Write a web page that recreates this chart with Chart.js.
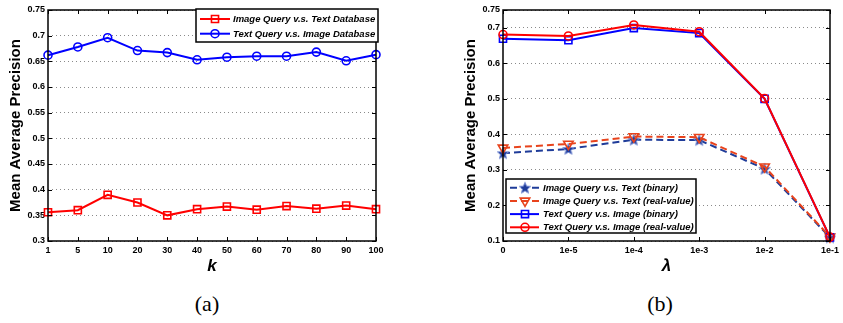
<!DOCTYPE html>
<html>
<head>
<meta charset="utf-8">
<script src="https://cdn.jsdelivr.net/npm/chart.js@4.4.1/dist/chart.umd.min.js"></script>
<style>
  html, body { margin: 0; padding: 0; background: #fff; }
  #page { position: relative; width: 843px; height: 323px; overflow: hidden; }
  .panel { position: absolute; top: 0; height: 285px; }
  #panel-a { left: 0; width: 400px; }
  #panel-b { left: 430px; width: 413px; }
  .caption {
    position: absolute; top: 291px; transform: translateX(-50%);
    font-family: "Liberation Serif", "DejaVu Serif", serif; font-size: 22px; color: #000;
  }
</style>
</head>
<body>
<div id="page">
  <div class="panel" id="panel-a"><canvas id="chartA"></canvas></div>
  <div class="panel" id="panel-b"><canvas id="chartB"></canvas></div>
  <div class="caption" style="left:207px">(a)</div>
  <div class="caption" style="left:660px">(b)</div>
</div>
<script>
// Panel (a): MAP against k
const kLabels = ['1', '5', '10', '20', '30', '40', '50', '60', '70', '80', '90', '100'];
const imgQueryTextDb = [0.356, 0.360, 0.390, 0.375, 0.350, 0.362, 0.367, 0.361, 0.368, 0.363, 0.369, 0.362];
const txtQueryImageDb = [0.662, 0.678, 0.696, 0.671, 0.667, 0.653, 0.658, 0.660, 0.660, 0.668, 0.651, 0.663];
const yTicksA = [0.3, 0.35, 0.4, 0.45, 0.5, 0.55, 0.6, 0.65, 0.7, 0.75];

// Panel (b): MAP against lambda
const lambdaLabels = ['0', '1e-5', '1e-4', '1e-3', '1e-2', '1e-1'];
const imgTextBinary = [0.347, 0.359, 0.385, 0.384, 0.303, 0.110];
const imgTextReal = [0.362, 0.373, 0.394, 0.392, 0.309, 0.112];
const txtImageBinary = [0.669, 0.665, 0.699, 0.685, 0.500, 0.110];
const txtImageReal = [0.681, 0.677, 0.708, 0.689, 0.501, 0.111];
const yTicksB = [0.1, 0.2, 0.3, 0.4, 0.5, 0.6, 0.7, 0.75];

const FAMILY = '"Liberation Sans", Arial, Helvetica, sans-serif';
Chart.defaults.font.family = FAMILY;
Chart.defaults.color = '#000';

const tickFont = { size: 9, weight: 'bold' };

// filled star marker (chart.js 'star' is only an asterisk)
function starImage(size, fill, stroke) {
    const c = document.createElement('canvas');
    c.width = c.height = size;
    const g = c.getContext('2d');
    const cx = size / 2, cy = size / 2 + 0.5, r = size / 2 - 1, r2 = r * 0.45;
    g.beginPath();
    for (let i = 0; i < 10; i++) {
        const ang = -Math.PI / 2 + i * Math.PI / 5;
        const rr = i % 2 ? r2 : r;
        g.lineTo(cx + rr * Math.cos(ang), cy + rr * Math.sin(ang));
    }
    g.closePath();
    g.fillStyle = fill;
    g.fill();
    g.strokeStyle = stroke;
    g.lineWidth = 1;
    g.stroke();
    return c;
}

// box + inward ticks on all four sides, matlab style
const matlabFrame = {
    id: 'matlabFrame',
    afterDatasetsDraw(chart) {
        const { ctx, chartArea: a, scales: { x, y } } = chart;
        const len = 4;
        ctx.save();
        ctx.strokeStyle = '#000';
        ctx.lineWidth = 1;
        ctx.beginPath();
        x.ticks.forEach((t, i) => {
            const px = Math.round(x.getPixelForTick(i)) + 0.5;
            ctx.moveTo(px, a.bottom); ctx.lineTo(px, a.bottom - len);
            ctx.moveTo(px, a.top); ctx.lineTo(px, a.top + len);
        });
        y.ticks.forEach((t, i) => {
            const py = Math.round(y.getPixelForTick(i)) + 0.5;
            ctx.moveTo(a.left, py); ctx.lineTo(a.left + len, py);
            ctx.moveTo(a.right, py); ctx.lineTo(a.right - len, py);
        });
        ctx.stroke();
        ctx.lineWidth = 1.5;
        ctx.strokeRect(a.left, a.top, a.right - a.left, a.bottom - a.top);
        ctx.restore();
    }
};

// legend inside the axes, line sample + marker like matlab
const boxLegend = {
    id: 'boxLegend',
    afterDraw(chart, args, opts) {
        const { ctx } = chart;
        const b = opts.box;
        ctx.save();
        ctx.fillStyle = '#fff';
        ctx.fillRect(b.x, b.y, b.w, b.h);
        ctx.strokeStyle = '#000';
        ctx.lineWidth = 1.5;
        ctx.strokeRect(b.x, b.y, b.w, b.h);
        ctx.font = 'italic bold 9.5px ' + FAMILY;
        ctx.textBaseline = 'middle';
        chart.data.datasets.forEach((ds, i) => {
            const yy = b.y + opts.rowTop + i * opts.rowGap;
            ctx.strokeStyle = ds.borderColor;
            ctx.lineWidth = ds.borderWidth;
            ctx.setLineDash(ds.borderDash || []);
            ctx.beginPath();
            ctx.moveTo(b.x + opts.lineFrom, yy);
            ctx.lineTo(b.x + opts.lineTo, yy);
            ctx.stroke();
            ctx.setLineDash([]);
            ctx.fillStyle = ds.pointBackgroundColor;
            ctx.strokeStyle = ds.pointBorderColor;
            ctx.lineWidth = ds.pointBorderWidth;
            Chart.helpers.drawPoint(ctx, {
                pointStyle: ds.pointStyle,
                rotation: ds.pointRotation || 0,
                radius: ds.pointRadius,
                borderWidth: ds.pointBorderWidth
            }, b.x + opts.marker, yy);
            ctx.fillStyle = '#000';
            ctx.fillText(ds.label, b.x + opts.textX, yy + 0.5);
        });
        ctx.restore();
    }
};

function series(label, data, color, style, extra) {
    return Object.assign({
        label: label,
        data: data,
        borderColor: color,
        borderWidth: 2,
        pointStyle: style,
        pointRadius: 4,
        pointBorderColor: color,
        pointBackgroundColor: 'rgba(255,255,255,0)',
        pointBorderWidth: 1.6,
        tension: 0,
        clip: false
    }, extra || {});
}

function axes(xTitle, yTicks, yMin, yMax, yWidth, yTitlePad) {
    return {
        x: {
            type: 'category',
            offset: false,
            afterFit: s => { s.height = 44; },
            grid: { display: false, drawTicks: false },
            border: { display: false },
            ticks: { font: tickFont, color: '#000', padding: 4, maxRotation: 0, autoSkip: false },
            title: {
                display: true, text: xTitle, color: '#000',
                font: { size: 17, weight: 'bold', style: 'italic' },
                padding: { top: 0, bottom: 8 }
            }
        },
        y: {
            min: yMin,
            max: yMax,
            afterBuildTicks: s => { s.ticks = yTicks.map(v => ({ value: v })); },
            afterFit: s => { s.width = yWidth; },
            grid: { color: '#8a8a8a', lineWidth: 1, drawTicks: false },
            border: { display: false, dash: [1, 3] },
            ticks: {
                font: tickFont, color: '#000', padding: 3, autoSkip: false,
                callback: v => String(+(+v).toFixed(2))
            },
            title: {
                display: true, text: 'Mean Average Precision', color: '#000',
                font: { size: 15, weight: 'bold' },
                padding: { top: yTitlePad, bottom: 0 }
            }
        }
    };
}

const common = {
    responsive: true,
    maintainAspectRatio: false,
    animation: false,
    events: [],
    plugins: { legend: { display: false }, tooltip: { enabled: false } }
};

new Chart(document.getElementById('chartA'), {
    type: 'line',
    data: {
        labels: kLabels,
        datasets: [
            series('Image Query v.s. Text Database', imgQueryTextDb, '#ff0000', 'rect', { pointRadius: 5 }),
            series('Text Query v.s. Image Database', txtQueryImageDb, '#0000ff', 'circle')
        ]
    },
    options: Object.assign({}, common, {
        layout: { padding: { left: 0, top: 10, right: 24, bottom: 0 } },
        scales: axes('k', yTicksA, 0.3, 0.75, 48, 6.5),
        plugins: Object.assign({}, common.plugins, {
            boxLegend: {
                box: { x: 196, y: 9, w: 182, h: 33 },
                rowTop: 10, rowGap: 14.7,
                lineFrom: 4, lineTo: 34, marker: 19, textX: 37
            }
        })
    }),
    plugins: [matlabFrame, boxLegend]
});

const navy = '#1f3c99';
const orange = '#e8431c';

new Chart(document.getElementById('chartB'), {
    type: 'line',
    data: {
        labels: lambdaLabels,
        datasets: [
            series('Image Query v.s. Text (binary)', imgTextBinary, navy, starImage(14, navy, '#7f93d6'),
                { borderDash: [7, 4], pointRadius: 5, order: 3 }),
            series('Image Query v.s. Text (real-value)', imgTextReal, orange, 'triangle',
                { borderDash: [7, 4], pointRadius: 5.5, pointRotation: 180, order: 2 }),
            series('Text Query v.s. Image (binary)', txtImageBinary, '#0000ff', 'rect',
                { pointRadius: 5, order: 1 }),
            series('Text Query v.s. Image (real-value)', txtImageReal, '#ff0000', 'circle',
                { order: 0 })
        ]
    },
    options: Object.assign({}, common, {
        layout: { padding: { left: 0, top: 10, right: 11, bottom: 0 } },
        scales: axes('\u03bb', yTicksB, 0.1, 0.75, 73, 32),
        plugins: Object.assign({}, common.plugins, {
            boxLegend: {
                box: { x: 76, y: 179, w: 190, h: 54 },
                rowTop: 8.7, rowGap: 13.2,
                lineFrom: 4, lineTo: 33, marker: 19, textX: 37
            }
        })
    }),
    plugins: [matlabFrame, boxLegend]
});
</script>
</body>
</html>
